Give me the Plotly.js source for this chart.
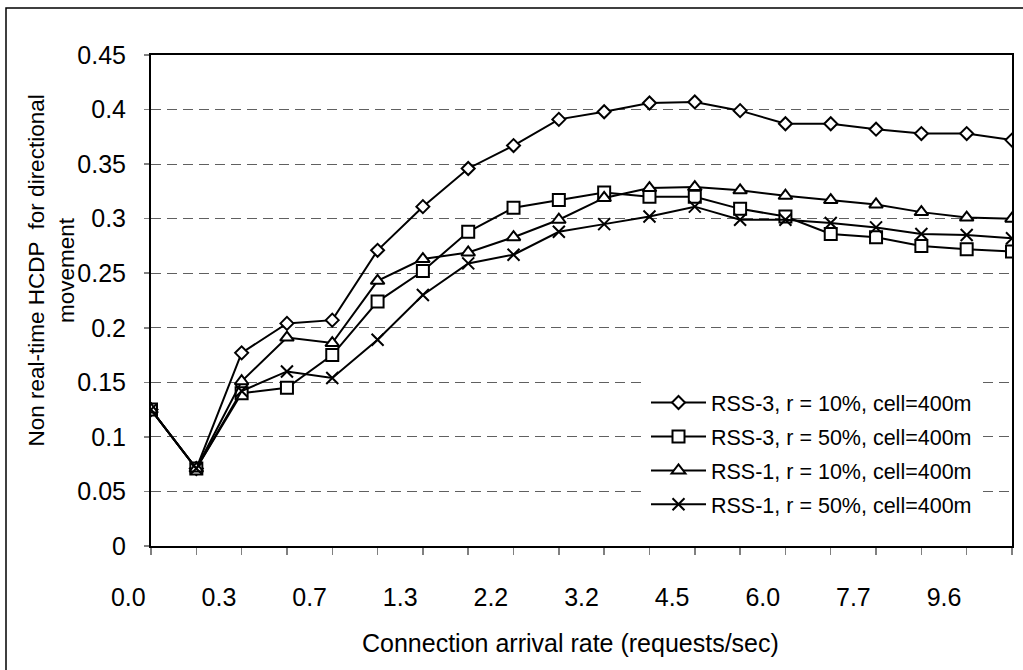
<!DOCTYPE html>
<html>
<head>
<meta charset="utf-8">
<script src="https://cdn.plot.ly/plotly-3.0.1.min.js"></script>
<style>html,body{margin:0;padding:0;background:#fff;}#chart{width:1023px;height:670px;}</style>
</head>
<body>
<div id="chart"></div>
<script>
// Category positions (one per measured arrival rate) and the printed tick labels
var pointIndex = [0,1,2,3,4,5,6,7,8,9,10,11,12,13,14,15,16,17,18,19];
var tickLabels = ["0.0","0.3","0.7","1.3","2.2","3.2","4.5","6.0","7.7","9.6"];

var seriesNames = [
  "RSS-3, r = 10%, cell=400m",
  "RSS-3, r = 50%, cell=400m",
  "RSS-1, r = 10%, cell=400m",
  "RSS-1, r = 50%, cell=400m"
];

var rss3_r10 = [0.125,0.071,0.177,0.204,0.207,0.271,0.311,0.346,0.367,0.391,0.398,0.406,0.407,0.399,0.387,0.387,0.382,0.378,0.378,0.372];
var rss3_r50 = [0.125,0.071,0.140,0.145,0.175,0.224,0.252,0.288,0.310,0.317,0.324,0.320,0.320,0.309,0.302,0.286,0.283,0.275,0.272,0.270];
var rss1_r10 = [0.125,0.071,0.151,0.191,0.186,0.243,0.263,0.269,0.283,0.299,0.319,0.328,0.329,0.326,0.321,0.317,0.313,0.306,0.301,0.300];
var rss1_r50 = [0.125,0.071,0.142,0.160,0.154,0.189,0.230,0.259,0.267,0.288,0.295,0.302,0.311,0.299,0.299,0.296,0.292,0.286,0.285,0.282];

var FONT = "Arial, 'Liberation Sans', sans-serif";

function mk(y, name, symbol, size, group) {
  var isX = symbol.indexOf('x') === 0;
  return {
    x: pointIndex, y: y, name: name, type: 'scatter', mode: 'lines+markers',
    legendgroup: group,
    line: {color: '#000', width: 2},
    marker: {symbol: symbol, size: size, color: isX ? '#000' : '#fff',
             line: {color: '#000', width: 2}}
  };
}

// Excel-style labels: every other category, centred half a category to the left
var labelVals = tickLabels.map(function(t, i) { return pointIndex[2 * i] - 0.5; });

var data = [
  mk(rss3_r10, seriesNames[0], 'diamond', 10, 'g1'),
  mk(rss3_r50, seriesNames[1], 'square', 12, 'g2'),
  mk(rss1_r10, seriesNames[2], 'triangle-up', 12, 'g3'),
  mk(rss1_r50, seriesNames[3], 'x-thin', 12, 'g4'),
  // empty helper trace so the label-only axis is created
  {x: labelVals, y: labelVals.map(function() { return null; }), xaxis: 'x2', yaxis: 'y2',
   type: 'scatter', mode: 'markers', showlegend: false, hoverinfo: 'skip',
   marker: {opacity: 0}}
];

// label-only axis shares the category scale of the main x axis but spans a wider domain
var ML = 101, MR = 11, PLOT_L = 151, PLOT_R = 1012;
var paperW = 1023 - ML - MR;
var pxPerCat = (PLOT_R - PLOT_L) / (pointIndex.length - 1);
var mainDomain = [(PLOT_L - ML) / paperW, 1];
var labelRange = [-(PLOT_L - ML) / pxPerCat, pointIndex.length - 1];

var annotations = [];
annotations.push({text: 'Connection arrival rate (requests/sec)', x: (570 - ML) / paperW, xref: 'paper',
  y: -0.198, yref: 'paper', showarrow: false, xanchor: 'center', yanchor: 'middle',
  font: {family: FONT, size: 25, color: '#000'}});
annotations.push({text: 'Non real-time HCDP  for directional<br>movement', x: (51.5 - ML) / paperW, xref: 'paper',
  y: 0.56, yref: 'paper', showarrow: false, xanchor: 'center', yanchor: 'middle', textangle: -90,
  font: {family: FONT, size: 22.5, color: '#000'}});

var layout = {
  width: 1023, height: 670,
  margin: {l: ML, r: MR, t: 55, b: 124, pad: 0},
  paper_bgcolor: '#fff', plot_bgcolor: 'rgba(0,0,0,0)',
  font: {family: FONT, color: '#000'},
  showlegend: true,
  legend: {x: (646 - ML) / paperW, y: 0.334, xanchor: 'left', yanchor: 'top', bgcolor: '#fff',
           borderwidth: 0, font: {family: FONT, size: 21.5, color: '#000'},
           tracegroupgap: 3, itemwidth: 55},
  xaxis: {domain: mainDomain, range: [0, pointIndex.length - 1], tickmode: 'array', tickvals: pointIndex,
          showticklabels: false,
          ticks: 'outside', ticklen: 7, tickcolor: '#808080', tickwidth: 1.5,
          showgrid: false, zeroline: false, showline: true, linecolor: '#000', linewidth: 2,
          mirror: true, fixedrange: true},
  xaxis2: {domain: [0, 1], anchor: 'y2', range: labelRange, tickmode: 'array',
           tickvals: labelVals, ticktext: tickLabels, ticks: '', showline: false,
           showgrid: false, zeroline: false, ticklabelstandoff: 34,
           tickfont: {family: FONT, size: 25, color: '#000'}, fixedrange: true},
  yaxis2: {domain: [0, 1], anchor: 'x2', range: [0, 1], visible: false, showgrid: false,
           zeroline: false, fixedrange: true},
  yaxis: {range: [0, 0.45], dtick: 0.05, tick0: 0, ticks: 'outside', ticklen: 5,
          tickcolor: '#808080', tickwidth: 1.5, ticklabelstandoff: 13,
          tickfont: {family: FONT, size: 25, color: '#000'},
          showgrid: true, gridcolor: '#606060', gridwidth: 1, griddash: '10px,6px',
          zeroline: false, showline: true, linecolor: '#000', linewidth: 2, mirror: true,
          fixedrange: true},
  annotations: annotations,
  shapes: [{type: 'rect', xref: 'paper', yref: 'paper', x0: (6 - ML) / paperW, x1: 1.2, y0: -0.4, y1: 1.0957,
            line: {color: '#000', width: 1.5}, fillcolor: 'rgba(0,0,0,0)', layer: 'below'}]
};

Plotly.newPlot('chart', data, layout, {displayModeBar: false, staticPlot: true});
</script>
</body>
</html>
